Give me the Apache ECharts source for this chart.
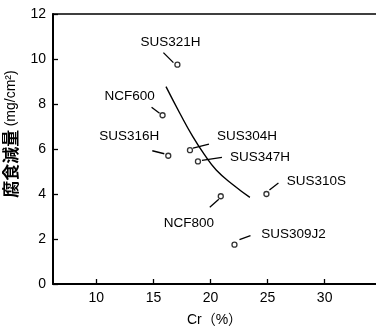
<!DOCTYPE html>
<html>
<head>
<meta charset="utf-8">
<script src="https://cdn.jsdelivr.net/npm/echarts@6/dist/echarts.min.js"></script>
<style>
  html, body { margin: 0; padding: 0; background: #fff; }
  #chart { width: 376px; height: 326px; }
</style>
</head>
<body>
<div id="chart"></div>
<script>
// 鋼種ごとの Cr 量と腐食減量
const steelNames = ['SUS321H', 'NCF600', 'SUS316H', 'SUS304H', 'SUS347H', 'SUS310S', 'NCF800', 'SUS309J2'];
const crValues = [17.1, 15.8, 16.3, 18.2, 18.9, 24.9, 20.9, 22.1];
const lossValues = [9.75, 7.5, 5.7, 5.95, 5.45, 4.0, 3.9, 1.75];

// 傾向線
const curveCr = [16.1, 17.3, 18.45, 19.5, 20.5, 22.0, 23.45];
const curveLoss = [8.77, 7.6, 6.55, 5.73, 5.07, 4.4, 3.85];

const xTicks = [10, 15, 20, 25, 30];

// ラベルと引出線の位置 (px, 点からのずれ)
const leaderFrom = [[-4, -2], [-3, -2], [-4, -2], [3, -2], [4, -1], [3, -4], [-2, 3], [5, -5]];
const leaderTo = [[-14, -12], [-11, -8], [-16, -5], [19, -6], [24, -4], [12, -11], [-11, 11], [16, -9]];
const labelAt = [[-7, -22], [-33, -19], [-39, -19], [57, -14], [62, -4], [50, -13], [-32, 27], [59, -10]];

const font = '"Liberation Sans", Arial, sans-serif';

const chart = echarts.init(document.getElementById('chart'));
chart.setOption({
  animation: false,
  grid: { left: 53, right: 0, top: 14, bottom: 42, containLabel: false, outerBoundsMode: 'none' },
  xAxis: [
    {
      type: 'value',
      min: 6.2,
      max: 34.5,
      name: 'Cr（%）',
      nameLocation: 'middle',
      nameGap: 29,
      nameTextStyle: { color: '#000', fontSize: 14, fontFamily: font + ', "Noto Sans CJK JP"' },
      axisLine: { show: true, lineStyle: { color: '#000', width: 2 } },
      axisTick: { show: true, inside: true, length: 5, customValues: xTicks, lineStyle: { color: '#000', width: 1.3 } },
      axisLabel: { customValues: xTicks, color: '#000', fontSize: 14, fontFamily: font, margin: 7 },
      splitLine: { show: false }
    },
    {
      type: 'value',
      position: 'top',
      min: 6.2,
      max: 34.5,
      axisLine: { show: true, lineStyle: { color: '#000', width: 1.6 } },
      axisTick: { show: false },
      axisLabel: { show: false },
      splitLine: { show: false }
    }
  ],
  yAxis: {
    type: 'value',
    min: 0,
    max: 12,
    interval: 2,
    name: '{a|腐食減量} {b|(mg/cm²)}',
    nameLocation: 'middle',
    nameGap: 32,
    nameTextStyle: {
      padding: [0, 0, 0, 30],
      rich: {
        a: { fontSize: 17, fontFamily: '"Noto Sans CJK JP"', color: '#000', fontWeight: 'bold' },
        b: { fontSize: 14, fontFamily: font, color: '#000' }
      }
    },
    axisLine: { show: true, lineStyle: { color: '#000', width: 2 } },
    axisTick: { show: true, inside: true, length: 5, lineStyle: { color: '#000', width: 1.3 } },
    axisLabel: { color: '#000', fontSize: 14, fontFamily: font, margin: 7 },
    splitLine: { show: false }
  },
  series: [
    {
      type: 'line',
      data: curveCr.map((c, i) => [c, curveLoss[i]]),
      smooth: true,
      symbol: 'none',
      lineStyle: { color: '#000', width: 1.4 }
    },
    {
      type: 'scatter',
      data: crValues.map((c, i) => [c, lossValues[i]]),
      symbol: 'circle',
      symbolSize: 5,
      itemStyle: { color: '#fff', borderColor: '#000', borderWidth: 1.3 }
    },
    {
      type: 'custom',
      data: crValues.map((c, i) => [c, lossValues[i], i]),
      renderItem: function (params, api) {
        const i = api.value(2);
        const p = api.coord([api.value(0), api.value(1)]);
        return {
          type: 'group',
          children: [
            {
              type: 'line',
              shape: {
                x1: p[0] + leaderFrom[i][0], y1: p[1] + leaderFrom[i][1],
                x2: p[0] + leaderTo[i][0], y2: p[1] + leaderTo[i][1]
              },
              style: { stroke: '#000', lineWidth: 1.3 }
            },
            {
              type: 'text',
              x: p[0] + labelAt[i][0],
              y: p[1] + labelAt[i][1],
              style: {
                text: steelNames[i],
                fill: '#000',
                font: '13.5px ' + font,
                align: 'center',
                verticalAlign: 'middle'
              }
            }
          ]
        };
      }
    }
  ]
});
</script>
</body>
</html>
